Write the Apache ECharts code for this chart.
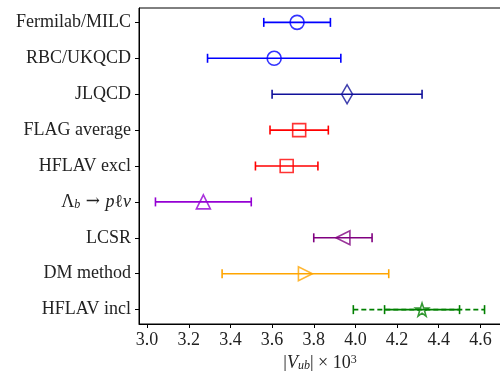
<!DOCTYPE html>
<html>
<head>
<meta charset="utf-8">
<script src="https://cdn.jsdelivr.net/npm/echarts@6/dist/echarts.min.js"></script>
<style>html,body{margin:0;padding:0;background:#fff;}#c{width:500px;height:371px;}</style>
</head>
<body>
<div id="c"></div>
<script>
var labels = ["Fermilab/MILC", "RBC/UKQCD", "JLQCD", "FLAG average", "HFLAV excl", "Λb → pℓν", "LCSR", "DM method", "HFLAV incl"];
var centers = [3.72, 3.61, 3.96, 3.73, 3.67, 3.27, 3.94, 3.76, 4.32];
var lower = [3.56, 3.29, 3.60, 3.59, 3.52, 3.04, 3.80, 3.36, 4.14];
var upper = [3.88, 3.93, 4.32, 3.87, 3.82, 3.50, 4.08, 4.16, 4.50];
var inclOuterLower = 3.99;
var inclOuterUpper = 4.62;
var colors = ["#0000ff", "#0000ff", "#10109a", "#ff0000", "#ff0000", "#9400d3", "#800080", "#ffa500", "#008000"];
var xTicks = [3.0, 3.2, 3.4, 3.6, 3.8, 4.0, 4.2, 4.4, 4.6];

var starPath = 'path://M0,-10 L2.35,-3.24 L9.51,-3.09 L3.8,1.24 L5.88,8.09 L0,4 L-5.88,8.09 L-3.8,1.24 L-9.51,-3.09 L-2.35,-3.24 Z';
var markerDefs = [
  {symbol: 'circle', size: 14, rot: 0},
  {symbol: 'circle', size: 14, rot: 0},
  {symbol: 'diamond', size: [11, 19], rot: 0},
  {symbol: 'rect', size: 13, rot: 0},
  {symbol: 'rect', size: 13, rot: 0},
  {symbol: 'triangle', size: 14, rot: 0},
  {symbol: 'triangle', size: 14, rot: 90},
  {symbol: 'triangle', size: 14, rot: -90},
  {symbol: starPath, size: 13, rot: 0}
];

var barData = [];
for (var i = 0; i < labels.length; i++) {
  barData.push({value: [i, lower[i], upper[i]]});
}
var outerData = [{value: [8, inclOuterLower, inclOuterUpper]}];

function makeRender(dashed) {
  return function (params, api) {
    var y = api.value(0);
    var a = api.coord([api.value(1), y]);
    var b = api.coord([api.value(2), y]);
    var col = colors[Math.round(y)];
    var st = {stroke: col, lineWidth: 1.6, lineDash: dashed ? [5, 3] : null};
    var cap = 4.5;
    return {
      type: 'group',
      children: [
        {type: 'line', shape: {x1: a[0], y1: a[1], x2: b[0], y2: b[1]}, style: st},
        {type: 'line', shape: {x1: a[0], y1: a[1] - cap, x2: a[0], y2: a[1] + cap}, style: {stroke: col, lineWidth: 1.6}},
        {type: 'line', shape: {x1: b[0], y1: b[1] - cap, x2: b[0], y2: b[1] + cap}, style: {stroke: col, lineWidth: 1.6}}
      ]
    };
  };
}

var markerData = [];
for (var j = 0; j < labels.length; j++) {
  markerData.push({
    value: [centers[j], j],
    symbol: markerDefs[j].symbol,
    symbolSize: markerDefs[j].size,
    symbolRotate: markerDefs[j].rot,
    itemStyle: {color: 'rgba(0,0,0,0)', borderColor: colors[j], borderWidth: 1.6}
  });
}

var font = 'Liberation Serif';
var chart = echarts.init(document.getElementById('c'), null, {renderer: 'canvas'});
chart.setOption({
  animation: false,
  grid: {left: 139, top: 8, width: 362, height: 316, outerBoundsMode: 'none', containLabel: false,
    show: true, borderColor: '#000', borderWidth: 1, backgroundColor: 'transparent'},
  xAxis: {
    type: 'value', min: 2.961, max: 4.699,
    splitLine: {show: false},
    axisLine: {show: true, onZero: false, lineStyle: {color: '#000', width: 1}},
    axisTick: {show: true, length: 4, customValues: xTicks, lineStyle: {color: '#000'}},
    axisLabel: {customValues: xTicks, margin: 7, color: '#222', fontFamily: font, fontSize: 18,
      formatter: function (v) { return v.toFixed(1); }},
    name: '{b||}{i|V}{s|ub}{b||} × 10{p|3}',
    nameLocation: 'middle', nameGap: 27,
    nameTextStyle: {color: '#222', fontFamily: font, fontSize: 18,
      rich: {
        b: {fontFamily: font, fontSize: 18, color: '#222'},
        i: {fontFamily: font, fontSize: 18, fontStyle: 'italic', color: '#222'},
        s: {fontFamily: font, fontSize: 12, fontStyle: 'italic', color: '#222', verticalAlign: 'bottom', lineHeight: 14},
        p: {fontFamily: font, fontSize: 12, color: '#222', verticalAlign: 'top', lineHeight: 14}
      }}
  },
  yAxis: {
    type: 'value', min: -0.4, max: 8.4, inverse: true,
    splitLine: {show: false},
    axisLine: {show: true, onZero: false, lineStyle: {color: '#000', width: 1}},
    axisTick: {show: true, length: 4, customValues: [0,1,2,3,4,5,6,7,8], lineStyle: {color: '#000'}},
    axisLabel: {customValues: [0,1,2,3,4,5,6,7,8], margin: 8, color: '#222', fontFamily: font, fontSize: 18,
      formatter: function (v) {
        var k = Math.round(v);
        if (k === 5) return '{t|Λ}{s|b}{a| → }{i|p}{t|ℓ}{i|ν}';
        return labels[k];
      },
      rich: {
        t: {fontFamily: font, fontSize: 18, color: '#222'},
        a: {fontFamily: 'DejaVu Serif', fontSize: 17, color: '#222'},
        i: {fontFamily: font, fontSize: 18, fontStyle: 'italic', color: '#222'},
        s: {fontFamily: font, fontSize: 12, fontStyle: 'italic', color: '#222', verticalAlign: 'bottom', lineHeight: 12}
      }}
  },
  series: [
    {type: 'custom', renderItem: makeRender(true), data: outerData, encode: {x: [1, 2], y: 0}, clip: false, z: 2},
    {type: 'custom', renderItem: makeRender(false), data: barData, encode: {x: [1, 2], y: 0}, clip: false, z: 3},
    {type: 'scatter', data: markerData, z: 5}
  ]
});
</script>
</body>
</html>
